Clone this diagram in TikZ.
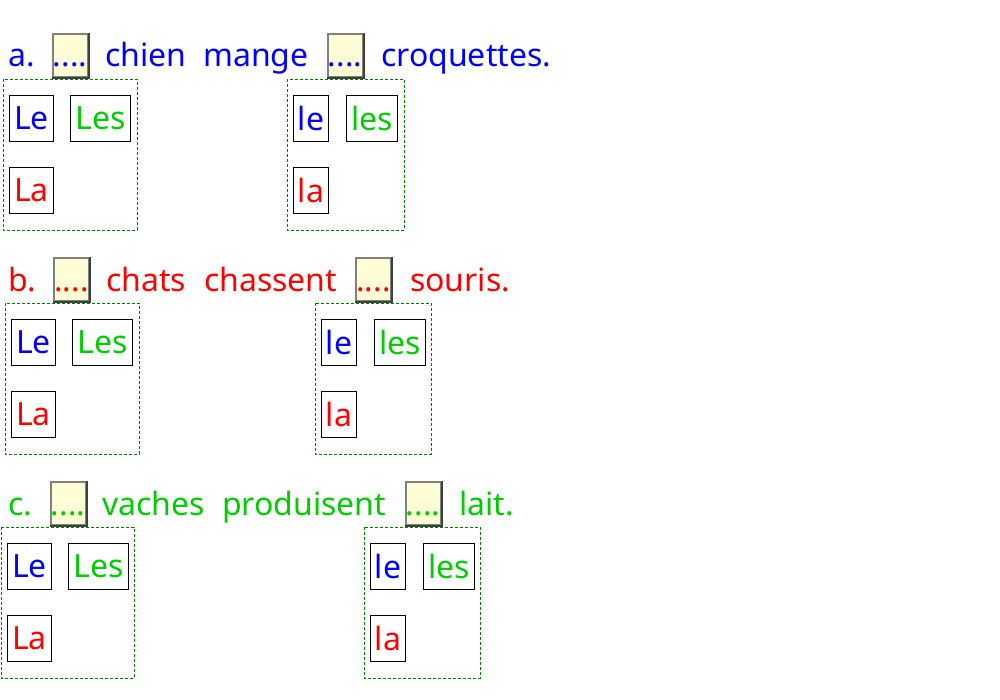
\documentclass[tikz,border=0pt]{standalone}
\usepackage{fontspec}
\setmainfont{Noto Sans}
\usetikzlibrary{positioning}
\definecolor{wblue}{RGB}{0,0,255}
\definecolor{wgreen}{RGB}{0,204,0}
\definecolor{wred}{RGB}{255,0,0}
\definecolor{poolgreen}{RGB}{0,128,0}
\definecolor{blankfill}{RGB}{255,253,214}
\definecolor{blanklight}{RGB}{128,128,128}
\definecolor{blankdark}{RGB}{64,64,64}
\tikzset{
  word/.style={anchor=base west, inner sep=0pt, font=\fontsize{32}{38}\selectfont},
  blank/.style={anchor=base, fill=blankfill, draw=blanklight, line width=2pt,
    minimum width=35pt, inner sep=0pt, text height=33pt, text depth=10pt,
    font=\fontsize{32}{38}\selectfont},
  blankedge/.style={draw=blankdark, line width=2pt},
  choice/.style={anchor=north west, draw=black, line width=1pt, inner sep=0pt,
    minimum height=46pt, font=\fontsize{32}{38}\selectfont},
  pool/.style={draw=poolgreen, dashed, line width=.8pt, dash pattern=on 3pt off 2pt},
}
\begin{document}
\begin{tikzpicture}[x=1pt,y=-1pt]
\useasboundingbox (0,0) rectangle (1000,700);
% a.
\node[word, text=wblue] (aNum) at (8,67) {a.};
\node[blank, text=wblue] (aB1) at (70,67) {....};
\draw[blankedge] (aB1.north east) -- (aB1.south east) -- (aB1.south west);
\node[word, text=wblue] (aW1) at (105,67) {chien};
\node[word, text=wblue] (aW2) at (203,67) {mange};
\node[blank, text=wblue] (aB2) at (345,67) {....};
\draw[blankedge] (aB2.north east) -- (aB2.south east) -- (aB2.south west);
\node[word, text=wblue] (aW3) at (381,67) {croquettes.};
\draw[pool] (3,79) rectangle (137,230);
\node[choice, minimum width=44pt, text=wblue] (aLe) at (9,95) {Le};
\node[choice, minimum width=60pt, text=wgreen] (aLes) at (70,95) {Les};
\node[choice, minimum width=44pt, text=wred] (aLa) at (9,167) {La};
\draw[pool] (287,79) rectangle (404,230);
\node[choice, minimum width=35pt, text=wblue] (ale) at (293,95) {le};
\node[choice, minimum width=51pt, text=wgreen] (ales) at (346,95) {les};
\node[choice, minimum width=35pt, text=wred] (ala) at (293,167) {la};
% b.
\node[word, text=wred] (bNum) at (8,291) {b.};
\node[blank, text=wred] (bB1) at (71.5,291) {....};
\draw[blankedge] (bB1.north east) -- (bB1.south east) -- (bB1.south west);
\node[word, text=wred] (bW1) at (106,291) {chats};
\node[word, text=wred] (bW2) at (204,291) {chassent};
\node[blank, text=wred] (bB2) at (373.5,291) {....};
\draw[blankedge] (bB2.north east) -- (bB2.south east) -- (bB2.south west);
\node[word, text=wred] (bW3) at (410,291) {souris.};
\draw[pool] (5,303) rectangle (139,454);
\node[choice, minimum width=44pt, text=wblue] (bLe) at (11,319) {Le};
\node[choice, minimum width=60pt, text=wgreen] (bLes) at (72,319) {Les};
\node[choice, minimum width=44pt, text=wred] (bLa) at (11,391) {La};
\draw[pool] (315,303) rectangle (431,454);
\node[choice, minimum width=35pt, text=wblue] (ble) at (321,319) {le};
\node[choice, minimum width=51pt, text=wgreen] (bles) at (374,319) {les};
\node[choice, minimum width=35pt, text=wred] (bla) at (321,391) {la};
% c.
\node[word, text=wgreen] (cNum) at (8,515) {c.};
\node[blank, text=wgreen] (cB1) at (68,515) {....};
\draw[blankedge] (cB1.north east) -- (cB1.south east) -- (cB1.south west);
\node[word, text=wgreen] (cW1) at (102,515) {vaches};
\node[word, text=wgreen] (cW2) at (222,515) {produisent};
\node[blank, text=wgreen] (cB2) at (423,515) {....};
\draw[blankedge] (cB2.north east) -- (cB2.south east) -- (cB2.south west);
\node[word, text=wgreen] (cW3) at (459,515) {lait.};
\draw[pool] (1,527) rectangle (134,678);
\node[choice, minimum width=44pt, text=wblue] (cLe) at (7,543) {Le};
\node[choice, minimum width=60pt, text=wgreen] (cLes) at (68,543) {Les};
\node[choice, minimum width=44pt, text=wred] (cLa) at (7,615) {La};
\draw[pool] (364,527) rectangle (480,678);
\node[choice, minimum width=35pt, text=wblue] (cle) at (370,543) {le};
\node[choice, minimum width=51pt, text=wgreen] (cles) at (423,543) {les};
\node[choice, minimum width=35pt, text=wred] (cla) at (370,615) {la};
\end{tikzpicture}
\end{document}
